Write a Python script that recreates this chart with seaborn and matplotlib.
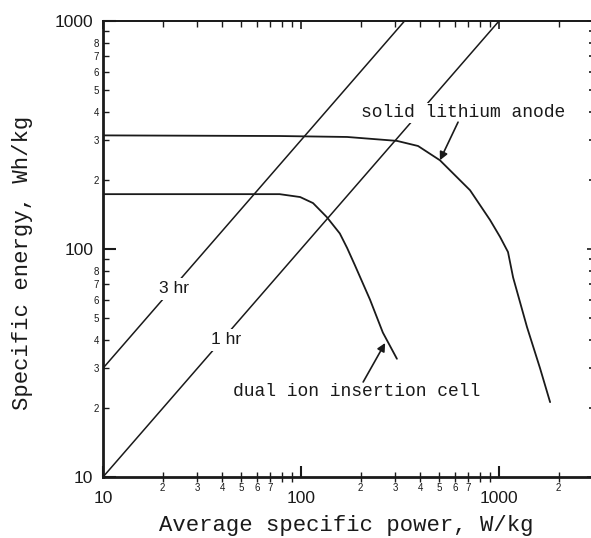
import numpy as np
import pandas as pd
import matplotlib
matplotlib.use("Agg")
import matplotlib.pyplot as plt
import seaborn as sns
from matplotlib.ticker import FixedLocator, FuncFormatter, NullFormatter

# Discharge curves (average specific power W/kg vs specific energy Wh/kg)
lithium_power = [10, 78, 171, 305, 390, 503, 714, 901, 1012, 1110, 1178, 1384, 1611, 1811]
lithium_energy = [315, 313, 310, 298, 283, 245, 181, 134, 113, 97, 75, 45.5, 30, 21.3]

dual_power = [10, 78, 99, 115, 135, 157, 171, 187, 223, 259, 305]
dual_energy = [174, 174, 169, 159, 138, 117, 101, 85, 60, 43, 33]

# Constant discharge-time lines (energy = power x hours)
hours = [3, 1]
hour_labels = ["3 hr", "1 hr"]

x_major = [10, 100, 1000]
y_major = [10, 100, 1000]
x_minor_labelled = [2, 3, 4, 5, 6, 7]
y_minor_labelled = [2, 3, 4, 5, 6, 7, 8]

sns.set_style("ticks")
plt.rcParams["font.family"] = ["Liberation Sans", "DejaVu Sans"]
MONO = ["Liberation Mono", "DejaVu Sans Mono"]
INK = "#1a1a1a"

W, H = 591, 538
fig = plt.figure(figsize=(W / 100, H / 100), dpi=100)
ax = fig.add_axes([103 / W, 1 - 477 / H, 490.5 / W, 456 / H])
ax.set_xscale("log")
ax.set_yscale("log")
xmin, xmax, ymin, ymax = 10, 3000, 10, 1000
ax.set_xlim(xmin, xmax)
ax.set_ylim(ymin, ymax)

# hour lines
for t in hours:
    p = np.array([xmin, ymax / t])
    sns.lineplot(x=p, y=p * t, ax=ax, color=INK, lw=1.1, sort=False,
                 estimator=None, legend=False)

lith = pd.DataFrame({"power": lithium_power, "energy": lithium_energy})
dual = pd.DataFrame({"power": dual_power, "energy": dual_energy})
for df in (lith, dual):
    sns.lineplot(data=df, x="power", y="energy", ax=ax, color=INK, lw=1.3,
                 sort=False, estimator=None, legend=False)

# labels on the hour lines (white box breaks the line)
box = dict(facecolor="white", edgecolor="none", pad=2.5)
ax.text(22.9, 66.8, hour_labels[0], fontsize=12.5, ha="center", va="center",
        color=INK, bbox=box, zorder=5)
ax.text(41.8, 39.9, hour_labels[1], fontsize=12.5, ha="center", va="center",
        color=INK, bbox=box, zorder=5)

ax.text(201, 395, "solid lithium anode", family=MONO, fontsize=13,
        ha="left", va="center", color=INK,
        bbox=dict(facecolor="white", edgecolor="none", pad=1), zorder=5)
ax.text(45.4, 23.6, "dual ion insertion cell", family=MONO, fontsize=13,
        ha="left", va="center", color=INK, zorder=5)

arrow = dict(arrowstyle="-|>", color=INK, lw=1.2, mutation_scale=12,
             shrinkA=0, shrinkB=0)
ax.annotate("", xy=(503, 245), xytext=(621, 360), arrowprops=arrow, zorder=6)
ax.annotate("", xy=(266, 38.7), xytext=(206, 26.1), arrowprops=arrow, zorder=6)

# ticks
def minor_fmt(allowed):
    def f(v, pos):
        m = int(round(v / 10 ** np.floor(np.log10(v) + 1e-9)))
        return str(m) if m in allowed else ""
    return FuncFormatter(f)

minor_subs = lambda lo, hi: [m * 10 ** e for e in range(int(np.log10(lo)), int(np.log10(hi)) + 1)
                             for m in range(2, 10) if lo < m * 10 ** e < hi]

ax.xaxis.set_major_locator(FixedLocator(x_major))
ax.yaxis.set_major_locator(FixedLocator(y_major))
ax.xaxis.set_minor_locator(FixedLocator(minor_subs(xmin, xmax)))
ax.yaxis.set_minor_locator(FixedLocator(minor_subs(ymin, ymax)))
ax.xaxis.set_major_formatter(FuncFormatter(lambda v, p: f"{v:g}"))
ax.yaxis.set_major_formatter(FuncFormatter(lambda v, p: f"{v:g}"))
ax.xaxis.set_minor_formatter(minor_fmt(x_minor_labelled))
ax.yaxis.set_minor_formatter(minor_fmt(y_minor_labelled))

ax.tick_params(axis="x", which="major", direction="in", length=8, width=1.5,
               pad=10, labelsize=12.5, colors=INK)
ax.tick_params(axis="x", which="minor", direction="inout", length=7, width=1,
               pad=1, labelsize=7, colors=INK)
ax.tick_params(axis="y", which="major", direction="in", length=9, width=1.5,
               pad=7, labelsize=12.5, colors=INK)
ax.tick_params(axis="y", which="minor", direction="in", length=4.5, width=1,
               pad=3, labelsize=7, colors=INK)
ax.tick_params(top=False, right=False)

for s in ("left", "bottom"):
    ax.spines[s].set_linewidth(2)
    ax.spines[s].set_color(INK)
ax.spines["top"].set_linewidth(1.3)
ax.spines["top"].set_color(INK)
ax.spines["right"].set_visible(False)

top = ax.secondary_xaxis("top")
top.xaxis.set_major_locator(FixedLocator(x_major))
top.xaxis.set_minor_locator(FixedLocator(minor_subs(xmin, xmax)))
top.xaxis.set_major_formatter(NullFormatter())
top.xaxis.set_minor_formatter(NullFormatter())
top.tick_params(which="major", direction="in", length=6, width=1.2, colors=INK)
top.tick_params(which="minor", direction="in", length=4, width=1, colors=INK)
top.spines["top"].set_linewidth(1.3)

right = ax.secondary_yaxis("right")
right.yaxis.set_major_locator(FixedLocator(y_major))
right.yaxis.set_minor_locator(FixedLocator(minor_subs(ymin, ymax)))
right.yaxis.set_major_formatter(NullFormatter())
right.yaxis.set_minor_formatter(NullFormatter())
right.tick_params(which="minor", direction="in", length=3.5, width=1.2, colors=INK)
right.tick_params(which="major", direction="in", length=5, width=1.2, colors=INK)

ax.set_xlabel("Average specific power, W/kg", family=MONO, fontsize=16, color=INK)
ax.set_ylabel("Specific energy, Wh/kg", family=MONO, fontsize=16, color=INK)
ax.xaxis.set_label_coords(0.495, -0.084)
ax.yaxis.set_label_coords(-0.143, 0.469)

fig.savefig("out.png", dpi=100)
